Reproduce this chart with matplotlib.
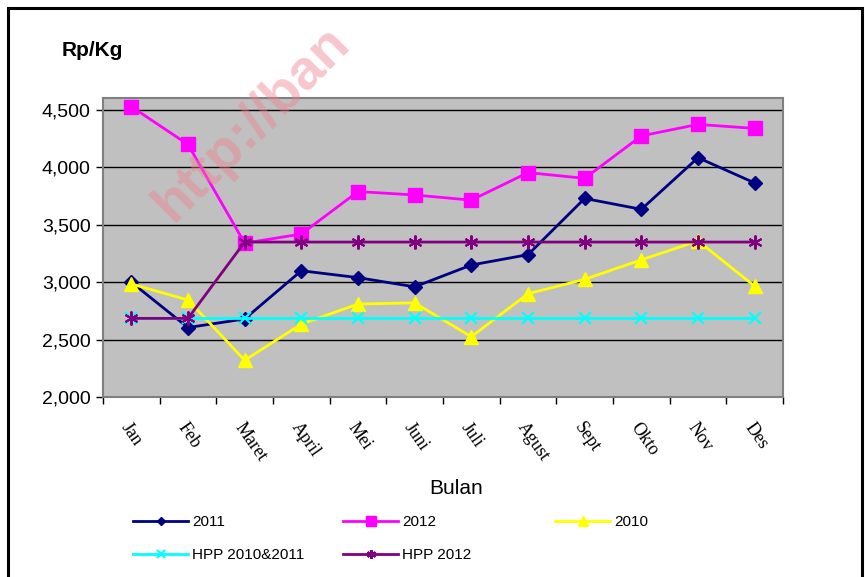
import matplotlib
matplotlib.use("Agg")
import matplotlib.pyplot as plt
from matplotlib.patches import Rectangle
import numpy as np

months = ["Jan", "Feb", "Maret", "April", "Mei", "Juni", "Juli", "Agust", "Sept", "Okto", "Nov", "Des"]
s2011 = [3000, 2605, 2680, 3100, 3040, 2960, 3150, 3240, 3730, 3635, 4085, 3865]
s2012 = [4530, 4200, 3340, 3420, 3790, 3760, 3715, 3955, 3905, 4275, 4375, 4340]
s2010 = [2985, 2845, 2320, 2635, 2810, 2820, 2525, 2900, 3025, 3195, 3360, 2965]
hpp1011 = [2685] * 12
hpp2012 = [2685, 2685, 3350, 3350, 3350, 3350, 3350, 3350, 3350, 3350, 3350, 3350]
yticks = [2000, 2500, 3000, 3500, 4000, 4500]
ytick_labels = ["2,000", "2,500", "3,000", "3,500", "4,000", "4,500"]

W, H = 865, 577
fig = plt.figure(figsize=(W / 100, H / 100), dpi=100)
fig.patch.set_facecolor("white")

# outer chart frame
fig.patches.append(Rectangle((8 / W, -0.05), (862 - 8) / W, 1.05 - 8 / H, transform=fig.transFigure,
                             fill=False, edgecolor="black", linewidth=2.2))

ax = fig.add_axes([103 / W, 1 - 397 / H, (783 - 103) / W, (397 - 98) / H])
ax.set_facecolor("#C0C0C0")
for sp in ax.spines.values():
    sp.set_color("#808080")
    sp.set_linewidth(1.5)

x = np.arange(len(months))
l11, = ax.plot(x, s2011, color="#000080", marker="D", markersize=7, linewidth=2, label="2011", zorder=3)
l12, = ax.plot(x, s2012, color="#FF00FF", marker="s", markersize=10, linewidth=2, label="2012", zorder=3)
l10, = ax.plot(x, s2010, color="#FFFF00", marker="^", markersize=10, linewidth=2, label="2010", zorder=3)
lh1, = ax.plot(x, hpp1011, color="#00FFFF", marker="x", markersize=9, markeredgewidth=1.5, linewidth=2,
               label="HPP 2010&2011", zorder=3)
lh2, = ax.plot(x, hpp2012, color="#800080", marker=(6, 2, 0), markersize=10, markeredgewidth=1.5,
               linewidth=2, label="HPP 2012", zorder=3)

ax.set_xlim(-0.5, 11.5)
ax.set_ylim(2000, 4605)
ax.set_yticks(yticks)
ax.set_yticklabels(ytick_labels, fontfamily="Liberation Sans", fontsize=14)
ax.yaxis.grid(True, color="black", linewidth=1)
ax.set_axisbelow(True)
ax.tick_params(axis="y", direction="out", length=5, width=1, color="black", pad=4)

ax.set_xticks(np.arange(-0.5, 12, 1))
ax.set_xticklabels([])
ax.set_xticks(x, minor=True)
ax.set_xticklabels(months, minor=True, rotation=-55, ha="left", va="top",
                   fontfamily="Liberation Serif", fontsize=13, rotation_mode="anchor")
ax.tick_params(axis="x", which="major", direction="out", length=5, width=1, color="black")
ax.tick_params(axis="x", which="minor", length=0, pad=16)

fig.text(62 / W, 1 - 50 / H, "Rp/Kg", fontfamily="Liberation Sans", fontweight="bold", fontsize=15,
         ha="left", va="center")
fig.text(456 / W, 1 - 488 / H, "Bulan", fontfamily="Liberation Sans", fontsize=15, ha="center", va="center")

legprops = dict(loc="upper left", frameon=False, prop={"family": "Liberation Sans", "size": 11},
                handlelength=3.6, handletextpad=0.25, labelspacing=1.25, markerscale=0.65,
                borderaxespad=0, borderpad=0)
leg_y = 1 - 515 / H
fig.legend([l11, lh1], ["2011", "HPP 2010&2011"], bbox_to_anchor=(133 / W, leg_y), **legprops)
fig.legend([l12, lh2], ["2012", "HPP 2012"], bbox_to_anchor=(343 / W, leg_y), **legprops)
fig.legend([l10], ["2010"], bbox_to_anchor=(555 / W, leg_y), **legprops)

# watermark
fig.text(252 / W, 1 - 124 / H, "http://ban", fontfamily="Liberation Sans", fontweight="bold", fontsize=40,
         color="#F08090", alpha=0.45, rotation=45, ha="center", va="center", zorder=10)

fig.savefig("out.png", dpi=100)
